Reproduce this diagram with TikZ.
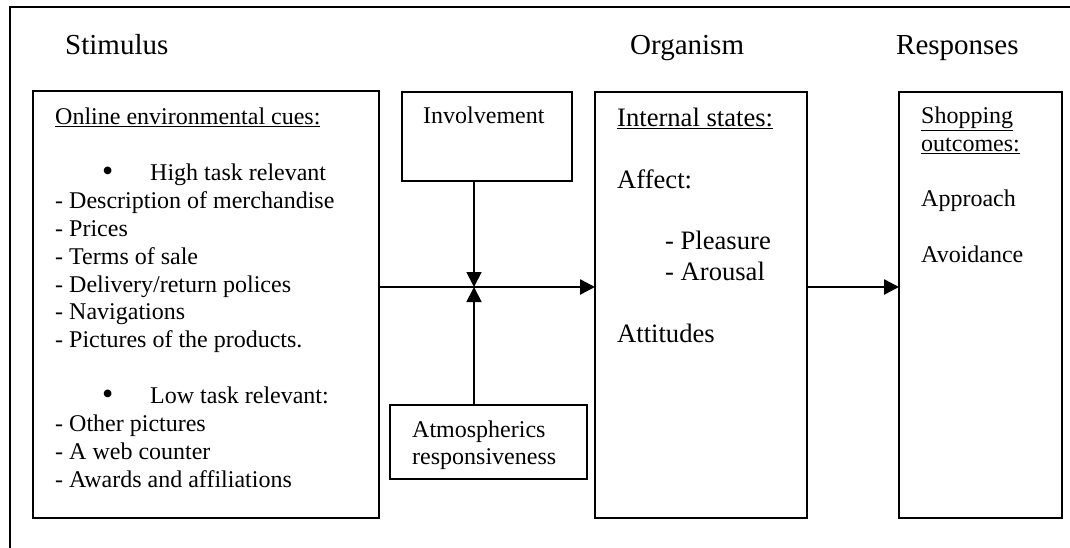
\documentclass[tikz,border=0pt]{standalone}
\usepackage{fontspec}
\setmainfont{Liberation Serif}
\usetikzlibrary{arrows.meta}

\newcommand{\cuebullet}{\hspace*{47pt}\makebox[48pt][l]{\raisebox{-1pt}{\fontsize{32}{32}\selectfont\textbullet}}}

\tikzset{
  box/.style={draw, line width=2.5pt, inner sep=0pt, outer sep=0pt, anchor=north west},
  txt/.style={inner sep=0pt, anchor=base west, align=left, font=\fontsize{24}{27.85}\selectfont},
  head/.style={inner sep=0pt, anchor=base west, font=\fontsize{29}{33}\selectfont},
  flow/.style={-{Triangle[length=15pt,width=15pt]}, line width=2.5pt},
  mod/.style={-{Triangle[length=15pt,width=15pt]}, line width=1.8pt}
}

\begin{document}
\begin{tikzpicture}[x=1pt,y=-1pt]
\useasboundingbox (0,0) rectangle (1070,548);
% outer frame
\draw[line width=1.5pt] (10,548) -- (10,7) -- (1070,7);
% headings
\node[head] (hs) at (65,55) {Stimulus};
\node[head] (ho) at (630,55) {Organism};
\node[head] (hr) at (896,55) {Responses};
% boxes
\node[box, minimum width=346pt, minimum height=427pt] (cues) at (33,91) {};
\node[box, minimum width=170pt, minimum height=89pt] (inv) at (402,92) {};
\node[box, minimum width=197pt, minimum height=74pt] (atm) at (390,405) {};
\node[box, minimum width=212pt, minimum height=426pt] (org) at (595,92) {};
\node[box, minimum width=163pt, minimum height=426pt] (resp) at (899,92) {};
% box texts (placed by the baseline of their last line)
\node[txt] (cuestxt) at (55,487) {\underline{Online environmental cues:}\\[27.85pt]
  \cuebullet High task relevant\\
  - Description of merchandise\\
  - Prices\\
  - Terms of sale\\
  - Delivery/return polices\\
  - Navigations\\
  - Pictures of the products.\\[27.85pt]
  \cuebullet Low task relevant:\\
  - Other pictures\\
  - A web counter\\
  - Awards and affiliations};
\node[txt] (invtxt) at (423,124) {Involvement};
\node[txt, font=\fontsize{24}{27}\selectfont] (atmtxt) at (412,464) {Atmospherics\\responsiveness};
\node[txt, font=\fontsize{26.6}{30.8}\selectfont] (orgtxt) at (617,342) {\underline{Internal states:}\\[30.8pt]
  Affect:\\[30.8pt]
  \hspace*{48pt}- Pleasure\\
  \hspace*{48pt}- Arousal\\[30.8pt]
  Attitudes};
\node[txt] (resptxt) at (921,262) {\underline{Shopping}\\\underline{outcomes:}\\[27.6pt]
  Approach\\[27.6pt]
  Avoidance};
% connectors
\coordinate (jn) at (474,287);
\draw[flow] (cues.east |- jn) -- (org.west |- jn);
\draw[mod] (inv.south -| jn) -- (jn);
\draw[mod] (atm.north -| jn) -- (jn);
\draw[flow] (org.east |- jn) -- (resp.west |- jn);
\end{tikzpicture}
\end{document}
